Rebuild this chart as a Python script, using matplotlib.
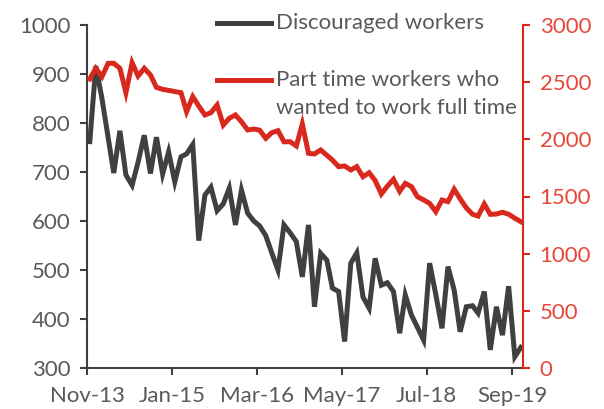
import matplotlib
matplotlib.use("Agg")
import matplotlib.pyplot as plt
import matplotlib.dates as mdates
import pandas as pd

# monthly observations, Nov-13 .. Oct-19
months = pd.date_range("2013-11-01", periods=72, freq="MS") + pd.Timedelta(days=14)

discouraged = [
    762, 916, 850, 770, 698, 784, 694, 673, 720, 775,
    697, 771, 696, 741, 680, 731, 737, 756, 560, 653,
    669, 621, 635, 667, 592, 663, 616, 600, 590, 570,
    535, 500, 592, 576, 558, 486, 592, 425, 534, 520,
    463, 456, 354, 514, 535, 445, 422, 524, 469, 474,
    456, 371, 449, 408, 383, 357, 514, 450, 381, 507,
    459, 374, 425, 427, 412, 456, 337, 425, 367, 467,
    323, 342,
]

part_time = [
    2528, 2621, 2548, 2665, 2665, 2621, 2408, 2670, 2554, 2621,
    2563, 2455, 2437, 2428, 2418, 2408, 2242, 2373, 2291, 2213,
    2233, 2300, 2125, 2184, 2213, 2154, 2082, 2090, 2080, 2009,
    2058, 2076, 1979, 1979, 1942, 2134, 1878, 1872, 1907, 1860,
    1819, 1761, 1767, 1732, 1761, 1673, 1708, 1640, 1522, 1590,
    1650, 1545, 1615, 1586, 1498, 1470, 1440, 1367, 1469, 1455,
    1563, 1480, 1400, 1345, 1329, 1434, 1344, 1347, 1362, 1345,
    1310, 1280,
]

tick_dates = pd.to_datetime(["2013-11-01", "2015-01-01", "2016-03-01",
                             "2017-05-01", "2018-07-01", "2019-09-01"])

grey = "#404040"
red = "#d9291e"
label_grey = "#595959"
label_red = "#e8463a"
fs = 16

plt.rcParams["font.family"] = ["Lato", "DejaVu Sans"]

fig = plt.figure(figsize=(6.04, 4.09), dpi=100)
ax = fig.add_axes([87 / 604, 1 - 368 / 409, (523 - 87) / 604, (368 - 25) / 409])
ax2 = ax.twinx()

ax.plot(months, discouraged, color=grey, lw=3.6, solid_joinstyle="miter")
ax2.plot(months, part_time, color=red, lw=3.6, solid_joinstyle="miter")

ax.set_xlim(pd.Timestamp("2013-11-01"), pd.Timestamp("2019-10-26"))
ax.set_ylim(300, 1000)
ax.set_yticks(range(300, 1001, 100))
ax2.set_ylim(0, 3000)
ax2.set_yticks(range(0, 3001, 500))

ax.set_xticks(tick_dates)
ax.xaxis.set_major_formatter(mdates.DateFormatter("%b-%y"))

for s in ["top", "right"]:
    ax.spines[s].set_visible(False)
for s in ["top", "left", "bottom"]:
    ax2.spines[s].set_visible(False)
ax.spines["left"].set_color(grey)
ax.spines["bottom"].set_color(grey)
ax.spines["left"].set_linewidth(1.5)
ax.spines["bottom"].set_linewidth(1.5)
ax2.spines["right"].set_color(red)
ax2.spines["right"].set_linewidth(1.5)

ax.tick_params(axis="y", colors=grey, labelcolor=label_grey, labelsize=fs,
               length=5, width=1.5, pad=7)
ax.tick_params(axis="x", colors=grey, labelcolor=label_grey, labelsize=fs,
               length=5, width=1.5, pad=8)
ax2.tick_params(axis="y", colors=red, labelcolor=label_red, labelsize=fs,
                length=5, width=1.5, pad=7)

# legend drawn by hand so the handle lines up with the first text line
fig.add_artist(plt.Line2D([217 / 604, 271 / 604], [1 - 23 / 409] * 2,
                          color=grey, lw=3.6, transform=fig.transFigure))
fig.text(276 / 604, 1 - 23 / 409, "Discouraged workers", color=label_grey,
         fontsize=fs, va="center", ha="left")
fig.add_artist(plt.Line2D([217 / 604, 271 / 604], [1 - 80 / 409] * 2,
                          color=red, lw=3.6, transform=fig.transFigure))
fig.text(276 / 604, 1 - 80 / 409, "Part time workers who", color=label_grey,
         fontsize=fs, va="center", ha="left")
fig.text(276 / 604, 1 - 108 / 409, "wanted to work full time", color=label_grey,
         fontsize=fs, va="center", ha="left")

fig.savefig("out.png", dpi=100)
